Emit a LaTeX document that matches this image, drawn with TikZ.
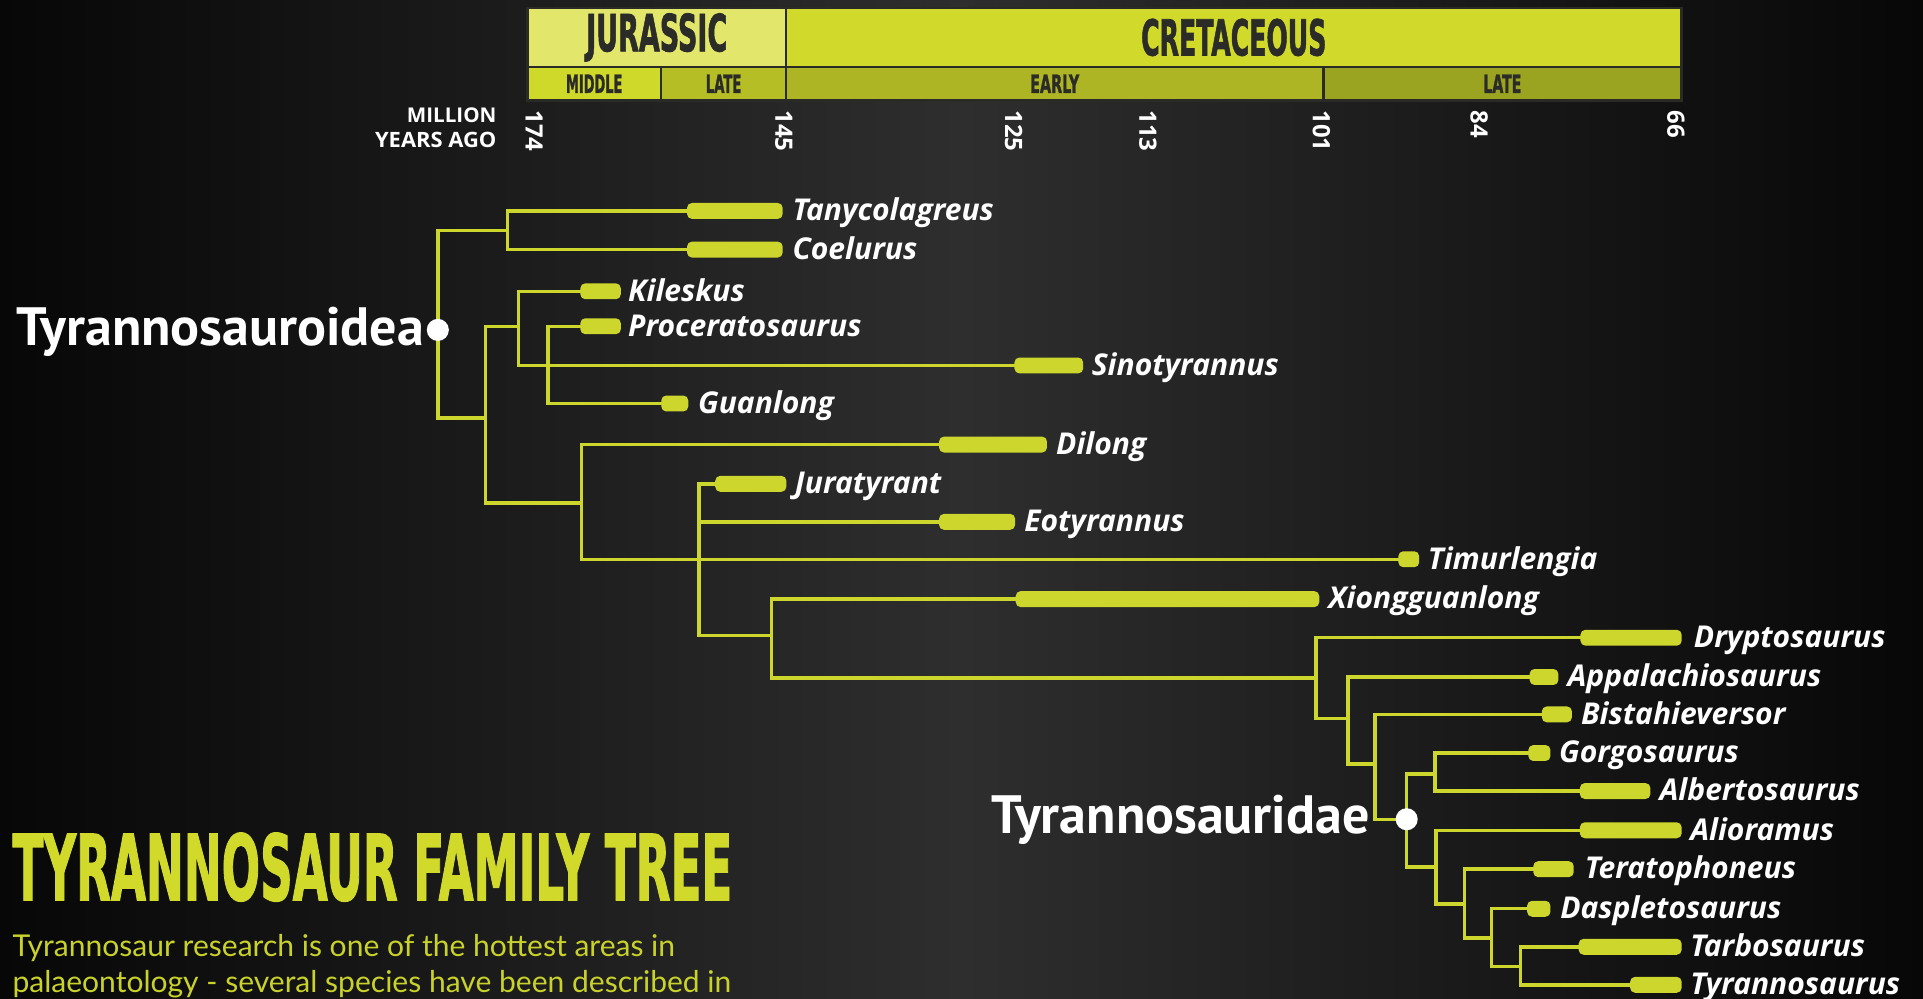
\documentclass[tikz,border=0pt]{standalone}
\usepackage{fontspec}
\usepackage{graphicx}
\newfontfamily\osans{Open Sans}
\newfontfamily\ptsans{PT Sans}
\newfontfamily\condfont{DejaVu Sans Condensed}[BoldFeatures={FakeBold=1.6}]
\newfontfamily\lato{Lato}
\definecolor{tree}{HTML}{CDD62C}
\definecolor{jurtop}{HTML}{E2E76B}
\definecolor{crettop}{HTML}{D1DA2B}
\definecolor{midj}{HTML}{CFD92A}
\definecolor{latej}{HTML}{B5BE25}
\definecolor{earlyc}{HTML}{ADB524}
\definecolor{latec}{HTML}{9AA421}
\definecolor{hdrline}{HTML}{2A2A26}
\definecolor{hdrtext}{HTML}{2B2B28}
\definecolor{bodytxt}{HTML}{C9D22A}
\definecolor{bgmid}{HTML}{2E2E2E}
\definecolor{bgedge}{HTML}{070707}
\newcommand{\mytaxon}[6]{%
  \node[bar, minimum width={#3pt-#2pt}, anchor=west] (#1) at (#2,#4) {};
  \node[lab, anchor=base west] (#1l) at (#5,#4+8) {#6};}
\tikzset{
  br/.style={draw=tree, line width=2.8pt, line cap=rect},
  bar/.style={fill=tree, rounded corners=4pt, minimum height=13pt, inner sep=0pt, draw=none},
  lab/.style={text=white, inner sep=0pt, font=\osans\bfseries\itshape\fontsize{24.5}{28}\selectfont},
  clade/.style={text=white, inner sep=0pt, font=\ptsans\bfseries\fontsize{44}{48}\selectfont},
  dot/.style={circle, fill=white, minimum size=18pt, inner sep=0pt},
  cell/.style={draw=hdrline, line width=2pt, inner sep=0pt, anchor=north west, text=hdrtext},
  num/.style={text=white, rotate=-90, anchor=west, inner sep=0pt, font=\osans\bfseries\fontsize{19.5}{19.5}\selectfont},
  body/.style={text=bodytxt, inner sep=0pt, font=\lato\fontsize{24.5}{29}\selectfont},
}
\begin{document}
\begin{tikzpicture}[x=1pt,y=-1pt]
\useasboundingbox (0,0) rectangle (1568,814);
\clip (0,0) rectangle (1568,814);
\fill[bgedge] (0,0) rectangle (1568,814);
\shade[left color=bgedge, right color=bgedge, middle color=bgmid] (0,0) rectangle (1568,814);

% ---------- header ----------
\node[cell, fill=jurtop, minimum width=211pt, minimum height=48pt] (jur) at (429,5.5) {\resizebox{115pt}{31pt}{\condfont\bfseries JURASSIC}};
\node[cell, fill=crettop, minimum width=730pt, minimum height=48pt] (cret) at (640,5.5) {\resizebox{151pt}{30pt}{\condfont\bfseries CRETACEOUS}};
\node[cell, fill=midj, minimum width=109pt, minimum height=27.5pt] (midj) at (429,53.5) {\resizebox{46pt}{15pt}{\condfont\bfseries MIDDLE}};
\node[cell, fill=latej, minimum width=102pt, minimum height=27.5pt] (latej) at (538,53.5) {\resizebox{29pt}{15pt}{\condfont\bfseries LATE}};
\node[cell, fill=earlyc, minimum width=438pt, minimum height=27.5pt] (earlyc) at (640,53.5) {\resizebox{40pt}{15pt}{\condfont\bfseries EARLY}};
\node[cell, fill=latec, minimum width=292pt, minimum height=27.5pt] (latec) at (1078,53.5) {\resizebox{31pt}{15pt}{\condfont\bfseries LATE}};

\node[anchor=base east, inner sep=0pt, text=white] (mil) at (405,100) {\resizebox{73pt}{12pt}{\osans\bfseries MILLION}};
\node[anchor=base east, inner sep=0pt, text=white] (yrs) at (405,120) {\resizebox{99pt}{12.5pt}{\osans\bfseries YEARS AGO}};

\node[num] (n174) at (435.5,90) {174};
\node[num] (n145) at (639,90) {145};
\node[num] (n125) at (826.5,90) {125};
\node[num] (n113) at (936,90) {113};
\node[num] (n101) at (1077.5,90) {101};
\node[num] (n84) at (1206,90) {84};
\node[num] (n66) at (1366.5,90) {66};

% ---------- taxa ----------
\mytaxon{tany}{560}{638}{172}{646}{Tanycolagreus}
\mytaxon{coel}{560}{638}{203.5}{646}{Coelurus}
\mytaxon{kile}{473}{506}{237.5}{512}{Kileskus}
\mytaxon{proc}{473}{506}{266}{512}{Proceratosaurus}
\mytaxon{sino}{827}{883}{298}{890}{Sinotyrannus}
\mytaxon{guan}{539}{561}{329}{569}{Guanlong}
\mytaxon{dilo}{765.5}{853.5}{362.5}{861}{Dilong}
\mytaxon{jura}{583}{641}{394.5}{648}{Juratyrant}
\mytaxon{eoty}{765.5}{827.5}{425.5}{835}{Eotyrannus}
\mytaxon{timu}{1140}{1157}{456}{1164}{Timurlengia}
\mytaxon{xion}{828}{1075.5}{488.5}{1083}{Xiongguanlong}
\mytaxon{dryp}{1288.5}{1371}{520}{1381}{Dryptosaurus}
\mytaxon{appa}{1247}{1270.5}{552}{1278}{Appalachiosaurus}
\mytaxon{bist}{1257}{1281.5}{582.5}{1289}{Bistahieversor}
\mytaxon{gorg}{1246}{1264}{614}{1271}{Gorgosaurus}
\mytaxon{albe}{1288}{1345.5}{645}{1353}{Albertosaurus}
\mytaxon{alio}{1288}{1371}{677}{1378}{Alioramus}
\mytaxon{tera}{1250}{1283}{708.7}{1292}{Teratophoneus}
\mytaxon{dasp}{1245}{1264}{741}{1272}{Daspletosaurus}
\mytaxon{tarb}{1287}{1371}{772}{1378}{Tarbosaurus}
\mytaxon{tyra}{1329}{1371}{803}{1378}{Tyrannosaurus}

% ---------- internal nodes ----------
\coordinate (R) at (357,269);
\coordinate (A) at (414,188);
\coordinate (B) at (396,341);
\coordinate (C) at (423,266);
\coordinate (D) at (447,298);
\coordinate (E) at (474,410);
\coordinate (F) at (570,456);
\coordinate (G) at (629,518);
\coordinate (H) at (1073,553);
\coordinate (I) at (1099,586);
\coordinate (J) at (1121,623);
\coordinate (K) at (1147,668);
\coordinate (L) at (1170,631);
\coordinate (M) at (1171,707);
\coordinate (N) at (1194,737);
\coordinate (O) at (1216,765);
\coordinate (P) at (1240,788);

\draw[br] (R) |- (A);  \draw[br] (R) |- (B);
\draw[br] (A) |- (tany.west);  \draw[br] (A) |- (coel.west);
\draw[br] (B) |- (C);  \draw[br] (B) |- (E);
\draw[br] (C) |- (kile.west);  \draw[br] (C) |- (sino.west);
\draw[br] (D) |- (proc.west);  \draw[br] (D) |- (guan.west);
\draw[br] (E) |- (dilo.west);  \draw[br] (E) |- (timu.west);
\draw[br] (F) |- (jura.west);  \draw[br] (F) |- (eoty.west);  \draw[br] (F) |- (G);
\draw[br] (G) |- (xion.west);  \draw[br] (G) |- (H);
\draw[br] (H) |- (dryp.west);  \draw[br] (H) |- (I);
\draw[br] (I) |- (appa.west);  \draw[br] (I) |- (J);
\draw[br] (J) |- (bist.west);  \draw[br] (J) |- (K);
\draw[br] (K) |- (L);  \draw[br] (K) |- (M);
\draw[br] (L) |- (gorg.west);  \draw[br] (L) |- (albe.west);
\draw[br] (M) |- (alio.west);  \draw[br] (M) |- (N);
\draw[br] (N) |- (tera.west);  \draw[br] (N) |- (O);
\draw[br] (O) |- (dasp.west);  \draw[br] (O) |- (P);
\draw[br] (P) |- (tarb.west);  \draw[br] (P) |- (tyra.west);

\node[dot] (rdot) at (R) {};
\node[dot] (kdot) at (K) {};
\node[clade, anchor=base east] (tyroid) at (346,282) {Tyrannosauroidea};
\node[clade, anchor=base east] (tyridae) at (1117,680) {Tyrannosauridae};

% ---------- title and text ----------
\node[anchor=base west, inner sep=0pt, text=crettop] (title) at (10,734) {\resizebox{587pt}{55pt}{\condfont\bfseries TYRANNOSAUR FAMILY TREE}};
\node[body, anchor=base west] (body1) at (10,780) {Tyrannosaur research is one of the hottest areas in};
\node[body, anchor=base west] (body2) at (10,809) {palaeontology - several species have been described in};
\end{tikzpicture}
\end{document}
